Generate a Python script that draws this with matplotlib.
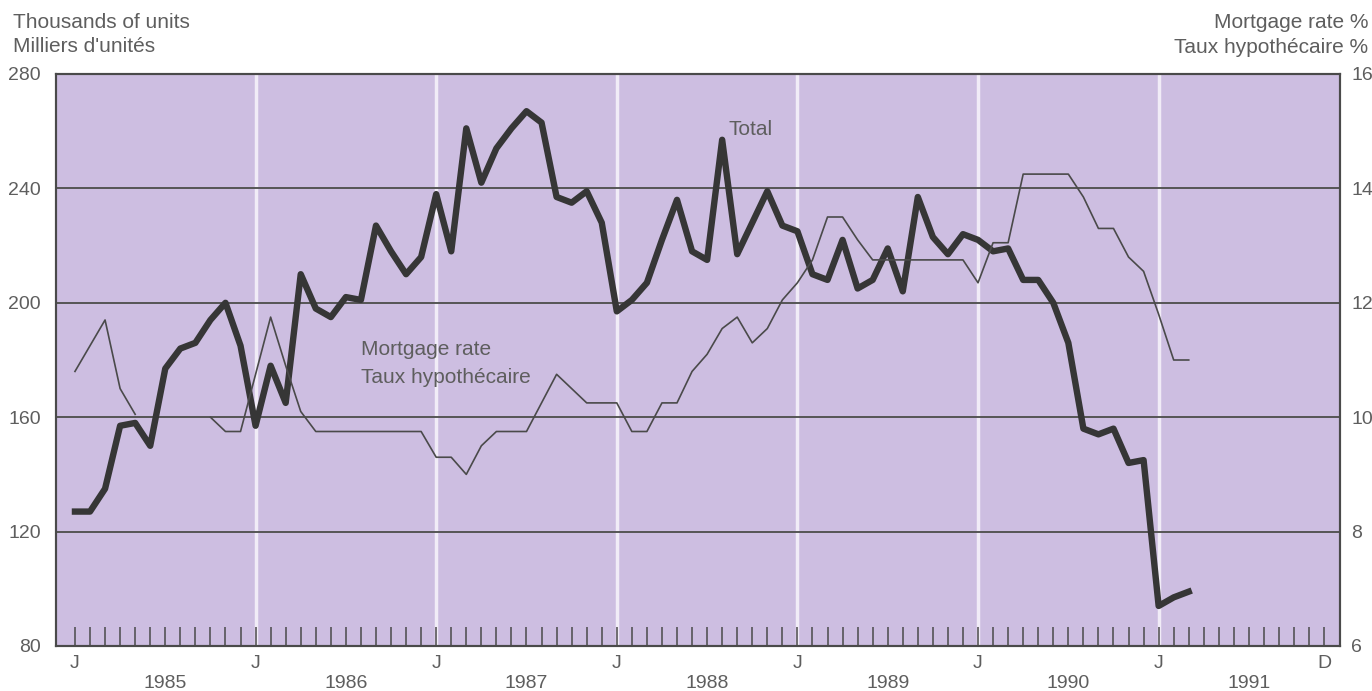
import numpy as np
import matplotlib.pyplot as plt

plt.rcParams['font.family'] = ['Liberation Sans', 'DejaVu Sans']

# monthly values, Jan 1985 .. Mar 1991
total = [127, 127, 135, 157, 158, 150, 177, 184, 186, 194, 200, 185,   # 1985
         157, 178, 165, 210, 198, 195, 202, 201, 227, 218, 210, 216,   # 1986
         238, 218, 261, 242, 254, 261, 267, 263, 237, 235, 239, 228,   # 1987
         197, 201, 207, 222, 236, 218, 215, 257, 217, 228, 239, 227,   # 1988
         225, 210, 208, 222, 205, 208, 219, 204, 237, 223, 217, 224,   # 1989
         222, 218, 219, 208, 208, 200, 186, 156, 154, 156, 144, 145,   # 1990
         94, 97, 99]                                                   # 1991

nan = np.nan
mortgage = [10.8, 11.25, 11.7, 10.5, 10.05, nan, nan, nan, nan, 10.0, 9.75, 9.75,
            10.75, 11.75, 10.9, 10.1, 9.75, 9.75, 9.75, 9.75, 9.75, 9.75, 9.75, 9.75,
            9.3, 9.3, 9.0, 9.5, 9.75, 9.75, 9.75, 10.25, 10.75, 10.5, 10.25, 10.25,
            10.25, 9.75, 9.75, 10.25, 10.25, 10.8, 11.1, 11.55, 11.75, 11.3, 11.55, 12.05,
            12.35, 12.75, 13.5, 13.5, 13.1, 12.75, 12.75, 12.75, 12.75, 12.75, 12.75, 12.75,
            12.35, 13.05, 13.05, 14.25, 14.25, 14.25, 14.25, 13.85, 13.3, 13.3, 12.8, 12.55,
            11.8, 11.0, 11.0]

years = [1985, 1986, 1987, 1988, 1989, 1990, 1991]
left_ticks = [80, 120, 160, 200, 240, 280]
right_ticks = [6, 8, 10, 12, 14, 16]

bg = '#CDBEE1'
dark = '#363636'
grey_txt = '#5e5e5e'

W, H = 1372, 691
fig = plt.figure(figsize=(W / 100, H / 100), dpi=100)
ax = fig.add_axes([56 / W, 1 - 646 / H, (1340 - 56) / W, (646 - 74) / H])
ax.set_facecolor(bg)

x = np.arange(len(total))
n_months = len(years) * 12
ax.set_xlim(-1.26, 84.05)
ax.set_ylim(left_ticks[0], left_ticks[-1])

# white vertical lines at each January
for k in range(1, len(years)):
    ax.axvline(12 * k, color='#f1ecf7', lw=2.5, zorder=0.5)
# horizontal grid
for v in left_ticks[1:-1]:
    ax.axhline(v, color='#555555', lw=1.4, zorder=1)

ax.plot(x, total, color=dark, lw=4.6, solid_joinstyle='round', zorder=3)

ax2 = ax.twinx()
ax2.set_ylim(right_ticks[0], right_ticks[-1])
ax2.plot(x, mortgage, color='#4a4a4a', lw=1.2, zorder=2)

for a in (ax, ax2):
    for s in a.spines.values():
        s.set_color('#4a4a4a')
        s.set_linewidth(1.5)

ax.set_yticks(left_ticks)
ax.tick_params(axis='y', length=0, pad=11, labelsize=14, labelcolor=grey_txt)
ax2.set_yticks(right_ticks)
ax2.tick_params(axis='y', length=0, pad=8, labelsize=14, labelcolor=grey_txt)

ax.set_xticks(np.arange(n_months))
ax.tick_params(axis='x', direction='in', length=14, width=1.1, color='#4a4a4a',
               labelbottom=False)

tr = ax.get_xaxis_transform()
for k, yr in enumerate(years):
    ax.text(12 * k, -0.03, 'J', transform=tr, ha='center', va='center',
            fontsize=14, color=grey_txt)
    ax.text(12 * k + 6, -0.066, str(yr), transform=tr, ha='center', va='center',
            fontsize=14, color=grey_txt)
ax.text(n_months - 1, -0.03, 'D', transform=tr, ha='center', va='center',
        fontsize=14, color=grey_txt)

ax.text(43.4, 260.5, 'Total', ha='left', va='center', fontsize=15, color=grey_txt, zorder=4)
ax.text(19.0, 183.5, 'Mortgage rate', ha='left', va='center', fontsize=15, color=grey_txt)
ax.text(19.0, 174.0, 'Taux hypothécaire', ha='left', va='center', fontsize=15, color=grey_txt)

fig.text(13 / W, 1 - 28 / H, 'Thousands of units', ha='left', va='baseline',
         fontsize=15, color=grey_txt)
fig.text(13 / W, 1 - 52 / H, "Milliers d'unités", ha='left', va='baseline',
         fontsize=15, color=grey_txt)
fig.text(1368 / W, 1 - 28 / H, 'Mortgage rate %', ha='right', va='baseline',
         fontsize=15, color=grey_txt)
fig.text(1368 / W, 1 - 53 / H, 'Taux hypothécaire %', ha='right', va='baseline',
         fontsize=15, color=grey_txt)

fig.savefig('out.png', dpi=100)
